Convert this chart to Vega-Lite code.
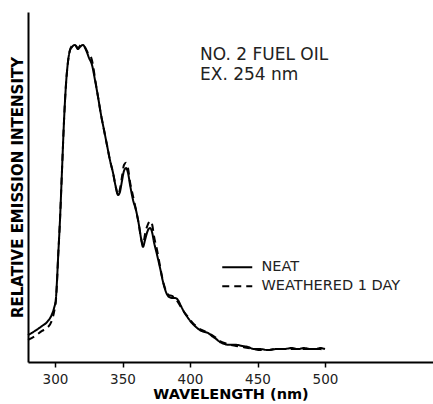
{
  "$schema": "https://vega.github.io/schema/vega-lite/v6.json",
  "width": 405,
  "height": 350,
  "autosize": {"type": "none"},
  "padding": {"left": 28, "top": 12, "right": 0, "bottom": 42},
  "background": "white",
  "config": {
    "view": {"stroke": null},
    "font": "DejaVu Sans",
    "axis": {"grid": false, "domainColor": "black", "domainWidth": 2, "tickColor": "black", "labelColor": "#222", "titleColor": "black"}
  },
  "datasets": {
    "spec": [
      {"wl": 280, "i": 7.7, "s": "NEAT"},
      {"wl": 285.2, "i": 8.9, "s": "NEAT"},
      {"wl": 290.4, "i": 10.3, "s": "NEAT"},
      {"wl": 294.1, "i": 11.4, "s": "NEAT"},
      {"wl": 297.8, "i": 13.7, "s": "NEAT"},
      {"wl": 299.3, "i": 15.4, "s": "NEAT"},
      {"wl": 300.7, "i": 18.3, "s": "NEAT"},
      {"wl": 301.5, "i": 23.4, "s": "NEAT"},
      {"wl": 302.2, "i": 29.1, "s": "NEAT"},
      {"wl": 303.7, "i": 40.6, "s": "NEAT"},
      {"wl": 305.2, "i": 54.9, "s": "NEAT"},
      {"wl": 306.7, "i": 69.1, "s": "NEAT"},
      {"wl": 308.1, "i": 79.1, "s": "NEAT"},
      {"wl": 309.6, "i": 85.7, "s": "NEAT"},
      {"wl": 311.1, "i": 89.1, "s": "NEAT"},
      {"wl": 312.6, "i": 90.0, "s": "NEAT"},
      {"wl": 314.8, "i": 90.6, "s": "NEAT"},
      {"wl": 317.0, "i": 89.4, "s": "NEAT"},
      {"wl": 318.5, "i": 90.0, "s": "NEAT"},
      {"wl": 320.7, "i": 90.6, "s": "NEAT"},
      {"wl": 323.0, "i": 89.1, "s": "NEAT"},
      {"wl": 325.2, "i": 86.9, "s": "NEAT"},
      {"wl": 327.4, "i": 84.9, "s": "NEAT"},
      {"wl": 329.6, "i": 80.6, "s": "NEAT"},
      {"wl": 331.9, "i": 75.7, "s": "NEAT"},
      {"wl": 334.1, "i": 70.6, "s": "NEAT"},
      {"wl": 336.3, "i": 66.3, "s": "NEAT"},
      {"wl": 338.5, "i": 62.0, "s": "NEAT"},
      {"wl": 340.7, "i": 57.7, "s": "NEAT"},
      {"wl": 343.0, "i": 54.0, "s": "NEAT"},
      {"wl": 345.2, "i": 49.7, "s": "NEAT"},
      {"wl": 346.7, "i": 47.7, "s": "NEAT"},
      {"wl": 348.1, "i": 48.6, "s": "NEAT"},
      {"wl": 349.6, "i": 51.7, "s": "NEAT"},
      {"wl": 351.1, "i": 54.6, "s": "NEAT"},
      {"wl": 352.6, "i": 55.4, "s": "NEAT"},
      {"wl": 354.1, "i": 54.0, "s": "NEAT"},
      {"wl": 355.6, "i": 50.6, "s": "NEAT"},
      {"wl": 357.8, "i": 46.3, "s": "NEAT"},
      {"wl": 360.0, "i": 43.4, "s": "NEAT"},
      {"wl": 362.2, "i": 39.1, "s": "NEAT"},
      {"wl": 363.7, "i": 35.4, "s": "NEAT"},
      {"wl": 365.2, "i": 32.9, "s": "NEAT"},
      {"wl": 366.7, "i": 34.9, "s": "NEAT"},
      {"wl": 368.9, "i": 37.7, "s": "NEAT"},
      {"wl": 370.4, "i": 38.3, "s": "NEAT"},
      {"wl": 371.9, "i": 37.1, "s": "NEAT"},
      {"wl": 373.3, "i": 34.3, "s": "NEAT"},
      {"wl": 375.6, "i": 30.6, "s": "NEAT"},
      {"wl": 377.8, "i": 26.9, "s": "NEAT"},
      {"wl": 380.0, "i": 22.9, "s": "NEAT"},
      {"wl": 382.2, "i": 20.0, "s": "NEAT"},
      {"wl": 384.4, "i": 18.6, "s": "NEAT"},
      {"wl": 386.7, "i": 18.3, "s": "NEAT"},
      {"wl": 388.9, "i": 18.3, "s": "NEAT"},
      {"wl": 391.1, "i": 17.7, "s": "NEAT"},
      {"wl": 393.3, "i": 16.0, "s": "NEAT"},
      {"wl": 395.6, "i": 14.3, "s": "NEAT"},
      {"wl": 398.5, "i": 12.6, "s": "NEAT"},
      {"wl": 401.5, "i": 11.1, "s": "NEAT"},
      {"wl": 404.4, "i": 10.0, "s": "NEAT"},
      {"wl": 407.4, "i": 9.1, "s": "NEAT"},
      {"wl": 410.4, "i": 8.6, "s": "NEAT"},
      {"wl": 413.3, "i": 8.3, "s": "NEAT"},
      {"wl": 416.3, "i": 7.4, "s": "NEAT"},
      {"wl": 419.3, "i": 6.6, "s": "NEAT"},
      {"wl": 422.2, "i": 5.7, "s": "NEAT"},
      {"wl": 425.9, "i": 5.1, "s": "NEAT"},
      {"wl": 429.6, "i": 4.9, "s": "NEAT"},
      {"wl": 434.1, "i": 4.9, "s": "NEAT"},
      {"wl": 438.5, "i": 4.6, "s": "NEAT"},
      {"wl": 443.0, "i": 4.3, "s": "NEAT"},
      {"wl": 447.4, "i": 3.7, "s": "NEAT"},
      {"wl": 451.9, "i": 3.7, "s": "NEAT"},
      {"wl": 457.8, "i": 3.4, "s": "NEAT"},
      {"wl": 463.7, "i": 3.7, "s": "NEAT"},
      {"wl": 469.6, "i": 3.7, "s": "NEAT"},
      {"wl": 475.6, "i": 4.0, "s": "NEAT"},
      {"wl": 480.0, "i": 3.7, "s": "NEAT"},
      {"wl": 484.4, "i": 4.0, "s": "NEAT"},
      {"wl": 488.9, "i": 3.7, "s": "NEAT"},
      {"wl": 493.3, "i": 3.7, "s": "NEAT"},
      {"wl": 496.3, "i": 4.0, "s": "NEAT"},
      {"wl": 500.0, "i": 3.7, "s": "NEAT"},

      {"wl": 280, "i": 6.3, "s": "WEATHERED 1 DAY"},
      {"wl": 285.2, "i": 7.4, "s": "WEATHERED 1 DAY"},
      {"wl": 290.4, "i": 8.9, "s": "WEATHERED 1 DAY"},
      {"wl": 294.1, "i": 9.7, "s": "WEATHERED 1 DAY"},
      {"wl": 297.8, "i": 12.0, "s": "WEATHERED 1 DAY"},
      {"wl": 299.3, "i": 14.3, "s": "WEATHERED 1 DAY"},
      {"wl": 300.7, "i": 17.7, "s": "WEATHERED 1 DAY"},
      {"wl": 301.5, "i": 22.9, "s": "WEATHERED 1 DAY"},
      {"wl": 302.2, "i": 29.1, "s": "WEATHERED 1 DAY"},
      {"wl": 303.7, "i": 40.6, "s": "WEATHERED 1 DAY"},
      {"wl": 305.2, "i": 54.9, "s": "WEATHERED 1 DAY"},
      {"wl": 306.7, "i": 69.1, "s": "WEATHERED 1 DAY"},
      {"wl": 308.1, "i": 79.1, "s": "WEATHERED 1 DAY"},
      {"wl": 309.6, "i": 85.7, "s": "WEATHERED 1 DAY"},
      {"wl": 311.1, "i": 89.1, "s": "WEATHERED 1 DAY"},
      {"wl": 312.6, "i": 90.3, "s": "WEATHERED 1 DAY"},
      {"wl": 314.8, "i": 90.6, "s": "WEATHERED 1 DAY"},
      {"wl": 317.0, "i": 89.7, "s": "WEATHERED 1 DAY"},
      {"wl": 319.3, "i": 90.6, "s": "WEATHERED 1 DAY"},
      {"wl": 321.5, "i": 90.3, "s": "WEATHERED 1 DAY"},
      {"wl": 324.4, "i": 88.3, "s": "WEATHERED 1 DAY"},
      {"wl": 326.7, "i": 87.1, "s": "WEATHERED 1 DAY"},
      {"wl": 328.1, "i": 84.9, "s": "WEATHERED 1 DAY"},
      {"wl": 329.6, "i": 81.1, "s": "WEATHERED 1 DAY"},
      {"wl": 331.9, "i": 75.7, "s": "WEATHERED 1 DAY"},
      {"wl": 334.1, "i": 70.6, "s": "WEATHERED 1 DAY"},
      {"wl": 336.3, "i": 66.3, "s": "WEATHERED 1 DAY"},
      {"wl": 338.5, "i": 62.0, "s": "WEATHERED 1 DAY"},
      {"wl": 340.7, "i": 57.7, "s": "WEATHERED 1 DAY"},
      {"wl": 343.0, "i": 54.0, "s": "WEATHERED 1 DAY"},
      {"wl": 345.2, "i": 49.7, "s": "WEATHERED 1 DAY"},
      {"wl": 346.7, "i": 47.7, "s": "WEATHERED 1 DAY"},
      {"wl": 348.1, "i": 49.4, "s": "WEATHERED 1 DAY"},
      {"wl": 349.6, "i": 52.9, "s": "WEATHERED 1 DAY"},
      {"wl": 351.1, "i": 56.3, "s": "WEATHERED 1 DAY"},
      {"wl": 352.6, "i": 56.9, "s": "WEATHERED 1 DAY"},
      {"wl": 354.1, "i": 55.4, "s": "WEATHERED 1 DAY"},
      {"wl": 355.6, "i": 51.4, "s": "WEATHERED 1 DAY"},
      {"wl": 357.8, "i": 47.4, "s": "WEATHERED 1 DAY"},
      {"wl": 360.0, "i": 43.4, "s": "WEATHERED 1 DAY"},
      {"wl": 362.2, "i": 39.1, "s": "WEATHERED 1 DAY"},
      {"wl": 363.7, "i": 35.4, "s": "WEATHERED 1 DAY"},
      {"wl": 365.2, "i": 33.4, "s": "WEATHERED 1 DAY"},
      {"wl": 366.7, "i": 36.6, "s": "WEATHERED 1 DAY"},
      {"wl": 368.9, "i": 39.4, "s": "WEATHERED 1 DAY"},
      {"wl": 370.4, "i": 40.3, "s": "WEATHERED 1 DAY"},
      {"wl": 371.9, "i": 39.4, "s": "WEATHERED 1 DAY"},
      {"wl": 373.3, "i": 36.0, "s": "WEATHERED 1 DAY"},
      {"wl": 375.6, "i": 32.0, "s": "WEATHERED 1 DAY"},
      {"wl": 377.8, "i": 27.4, "s": "WEATHERED 1 DAY"},
      {"wl": 380.0, "i": 23.1, "s": "WEATHERED 1 DAY"},
      {"wl": 382.2, "i": 20.3, "s": "WEATHERED 1 DAY"},
      {"wl": 384.4, "i": 19.1, "s": "WEATHERED 1 DAY"},
      {"wl": 386.7, "i": 18.9, "s": "WEATHERED 1 DAY"},
      {"wl": 388.9, "i": 18.0, "s": "WEATHERED 1 DAY"},
      {"wl": 391.1, "i": 17.1, "s": "WEATHERED 1 DAY"},
      {"wl": 393.3, "i": 15.7, "s": "WEATHERED 1 DAY"},
      {"wl": 395.6, "i": 14.3, "s": "WEATHERED 1 DAY"},
      {"wl": 398.5, "i": 12.9, "s": "WEATHERED 1 DAY"},
      {"wl": 401.5, "i": 11.4, "s": "WEATHERED 1 DAY"},
      {"wl": 404.4, "i": 10.3, "s": "WEATHERED 1 DAY"},
      {"wl": 407.4, "i": 9.4, "s": "WEATHERED 1 DAY"},
      {"wl": 410.4, "i": 8.9, "s": "WEATHERED 1 DAY"},
      {"wl": 413.3, "i": 8.3, "s": "WEATHERED 1 DAY"},
      {"wl": 416.3, "i": 7.7, "s": "WEATHERED 1 DAY"},
      {"wl": 419.3, "i": 6.9, "s": "WEATHERED 1 DAY"},
      {"wl": 422.2, "i": 6.0, "s": "WEATHERED 1 DAY"},
      {"wl": 425.9, "i": 5.4, "s": "WEATHERED 1 DAY"},
      {"wl": 429.6, "i": 4.9, "s": "WEATHERED 1 DAY"},
      {"wl": 434.1, "i": 4.6, "s": "WEATHERED 1 DAY"},
      {"wl": 438.5, "i": 4.3, "s": "WEATHERED 1 DAY"},
      {"wl": 443.0, "i": 4.0, "s": "WEATHERED 1 DAY"},
      {"wl": 447.4, "i": 3.7, "s": "WEATHERED 1 DAY"},
      {"wl": 451.9, "i": 3.4, "s": "WEATHERED 1 DAY"},
      {"wl": 457.8, "i": 3.4, "s": "WEATHERED 1 DAY"},
      {"wl": 463.7, "i": 3.7, "s": "WEATHERED 1 DAY"},
      {"wl": 469.6, "i": 3.7, "s": "WEATHERED 1 DAY"},
      {"wl": 475.6, "i": 3.7, "s": "WEATHERED 1 DAY"},
      {"wl": 480.0, "i": 3.7, "s": "WEATHERED 1 DAY"},
      {"wl": 484.4, "i": 3.7, "s": "WEATHERED 1 DAY"},
      {"wl": 488.9, "i": 3.7, "s": "WEATHERED 1 DAY"},
      {"wl": 493.3, "i": 3.7, "s": "WEATHERED 1 DAY"},
      {"wl": 496.3, "i": 3.7, "s": "WEATHERED 1 DAY"},
      {"wl": 500.0, "i": 3.4, "s": "WEATHERED 1 DAY"}
    ],
    "notes": [
      {"wl": 407.4, "i": 86.3, "t": ["NO. 2 FUEL OIL", "EX. 254 nm"]}
    ]
  },
  "layer": [
    {
      "data": {"name": "spec"},
      "mark": {"type": "line", "color": "black", "strokeWidth": 2, "interpolate": "monotone"},
      "encoding": {
        "x": {
          "field": "wl", "type": "quantitative",
          "scale": {"domain": [280, 580], "nice": false, "zero": false},
          "axis": {
            "title": "WAVELENGTH (nm)", "titleFontWeight": "bold", "titleFontSize": 14.5, "titlePadding": 2,
            "values": [300, 350, 400, 450, 500], "labelFontSize": 13.5, "tickSize": 5, "tickWidth": 1.5, "labelPadding": 5,
            "labelFlush": false
          }
        },
        "y": {
          "field": "i", "type": "quantitative",
          "scale": {"domain": [0, 100], "nice": false},
          "axis": {
            "title": "RELATIVE EMISSION INTENSITY", "titleFontWeight": "bold", "titleFontSize": 15, "titlePadding": 3,
            "labels": false, "ticks": false
          }
        },
        "strokeDash": {
          "field": "s", "type": "nominal",
          "scale": {"domain": ["NEAT", "WEATHERED 1 DAY"], "range": [[1, 0], [7, 5]]},
          "legend": {
            "title": null, "orient": "none", "legendX": 202, "legendY": 248,
            "symbolType": "M-3,0H3", "symbolSize": 100, "symbolStrokeWidth": 2, "symbolStrokeColor": "black",
            "symbolFillColor": "transparent",
            "labelFontSize": 14.5, "labelColor": "#222", "labelOffset": 17, "rowPadding": 4
          }
        }
      }
    },
    {
      "data": {"name": "notes"},
      "mark": {"type": "text", "align": "left", "baseline": "alphabetic", "fontSize": 17, "lineHeight": 20, "color": "#222"},
      "encoding": {
        "x": {"field": "wl", "type": "quantitative"},
        "y": {"field": "i", "type": "quantitative"},
        "text": {"field": "t"}
      }
    }
  ]
}
